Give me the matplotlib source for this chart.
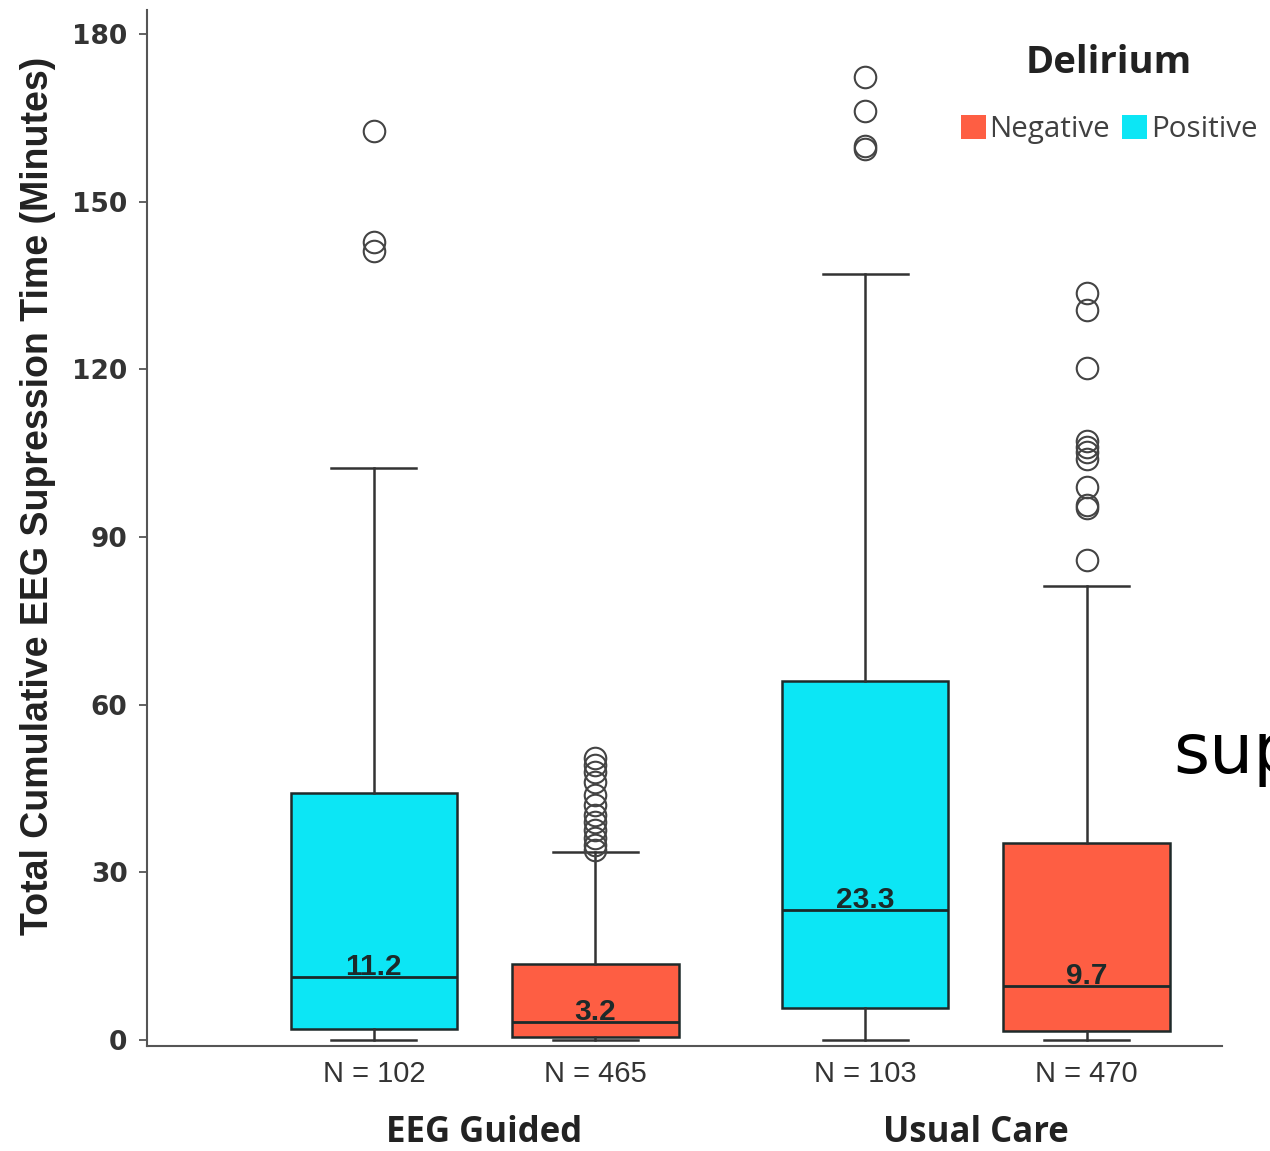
import matplotlib
matplotlib.use("Agg")
import matplotlib.pyplot as plt
from matplotlib.patches import Patch
from matplotlib import font_manager
from matplotlib.transforms import blended_transform_factory

# ---- data -------------------------------------------------------------
groups = ["EEG Guided", "Usual Care"]
delirium = ["Positive", "Negative"]
n_labels = ["N = 102", "N = 465", "N = 103", "N = 470"]

medians = [11.2, 3.2, 23.3, 9.7]
q1s = [2.0, 0.5, 5.7, 1.6]
q3s = [44.2, 13.6, 64.2, 35.2]
whisker_lo = [0.0, 0.0, 0.0, 0.0]
whisker_hi = [102.3, 33.6, 137.1, 81.2]
outliers = [
    [162.6, 142.8, 141.2],
    [50.5, 49.2, 48.0, 46.2, 43.8, 42.0, 40.3, 39.0, 37.6, 36.1, 34.9, 34.0],
    [172.3, 166.2, 160.0, 159.5],
    [133.7, 130.6, 120.2, 107.2, 106.1, 105.2, 104.0, 98.9, 95.7, 95.2, 85.9],
]

yticks = [0, 30, 60, 90, 120, 150, 180]

# ---- style ------------------------------------------------------------
cyan = "#0CE6F5"
red = "#FE5E43"
box_colors = [cyan, red, cyan, red]


def pick(*names):
    avail = {f.name for f in font_manager.fontManager.ttflist}
    return [n for n in names if n in avail] + ["DejaVu Sans"]


narrow = pick("Liberation Sans Narrow", "Liberation Sans")
arial = pick("Liberation Sans")
calib = pick("Open Sans", "Lato")

fig = plt.figure(figsize=(12.70, 11.51), dpi=100)
ax = fig.add_axes([147 / 1270, 1 - 1046 / 1151, (1222 - 147) / 1270, (1046 - 10) / 1151])

group_centers = [3.14, 7.71]
offset = 1.03
positions = []
for c in group_centers:
    positions += [c - offset, c + offset]

stats = []
for i in range(4):
    stats.append(dict(med=medians[i], q1=q1s[i], q3=q3s[i],
                      whislo=whisker_lo[i], whishi=whisker_hi[i],
                      fliers=outliers[i]))

bp = ax.bxp(stats, positions=positions, widths=1.55, capwidths=0.79,
            patch_artist=True, manage_ticks=False,
            boxprops=dict(edgecolor="#1e2a2a", linewidth=1.8),
            medianprops=dict(color="#1a2a2a", linewidth=2.0),
            whiskerprops=dict(color="#333333", linewidth=1.8),
            capprops=dict(color="#333333", linewidth=1.8),
            flierprops=dict(marker="o", markersize=15.5, markerfacecolor="none",
                            markeredgecolor="#444444", markeredgewidth=1.5))
for patch, col in zip(bp["boxes"], box_colors):
    patch.set_facecolor(col)

# median value labels sitting on the median line
for x, m in zip(positions, medians):
    ax.annotate(f"{m}", (x, m), xytext=(0, -3), textcoords="offset points",
                ha="center", va="bottom", fontsize=21.5, fontweight="bold",
                family=arial, color="#1c2a2a")

ax.set_xlim(0, 10)
ax.set_ylim(-1.1, 184.3)
ax.set_yticks(yticks)
ax.set_yticklabels([str(t) for t in yticks], fontsize=19, fontweight="bold",
                   family="DejaVu Sans", color="#333333")
ax.tick_params(axis="y", length=6, width=1.3, color="#555555", pad=8)

ax.set_xticks(positions)
ax.set_xticklabels(n_labels, fontsize=21, family=arial, color="#333333")
ax.tick_params(axis="x", length=0, pad=10)

for s in ["top", "right"]:
    ax.spines[s].set_visible(False)
for s in ["left", "bottom"]:
    ax.spines[s].set_color("#555555")
    ax.spines[s].set_linewidth(1.5)

trans = blended_transform_factory(ax.transData, ax.transAxes)
for c, g in zip(group_centers, groups):
    ax.text(c, -0.0835, g, transform=trans, ha="center", va="center",
            fontsize=25, fontweight="bold", family=calib, color="#222222")

fig.text(38 / 1270, 1 - 496 / 1151, "Total Cumulative EEG Supression Time (Minutes)",
         rotation=90, ha="center", va="center", fontsize=27, fontweight="bold",
         family=narrow, color="#222222")

handles = [Patch(facecolor=red, edgecolor="none", label="Negative"),
           Patch(facecolor=cyan, edgecolor="none", label="Positive")]
leg = fig.legend(handles=handles, ncol=2, title="Delirium", frameon=False,
                 loc="upper left", bbox_to_anchor=(949 / 1270, 1 - 32 / 1151),
                 prop=dict(family=calib, size=21.3), handlelength=0.85,
                 handleheight=0.85, handletextpad=0.12, columnspacing=0.4,
                 borderaxespad=0, labelspacing=0.3)
leg.get_title().set_fontproperties(font_manager.FontProperties(family=calib, weight="bold", size=27.5))
leg.get_title().set_color("#222222")
leg._legend_box.sep = 24
for t in leg.get_texts():
    t.set_color("#404040")

fig.text(1173 / 1270, 1 - 773 / 1151, "sup", ha="left", va="baseline",
         fontsize=50, family="DejaVu Sans", color="black")

fig.savefig("out.png", dpi=100)
